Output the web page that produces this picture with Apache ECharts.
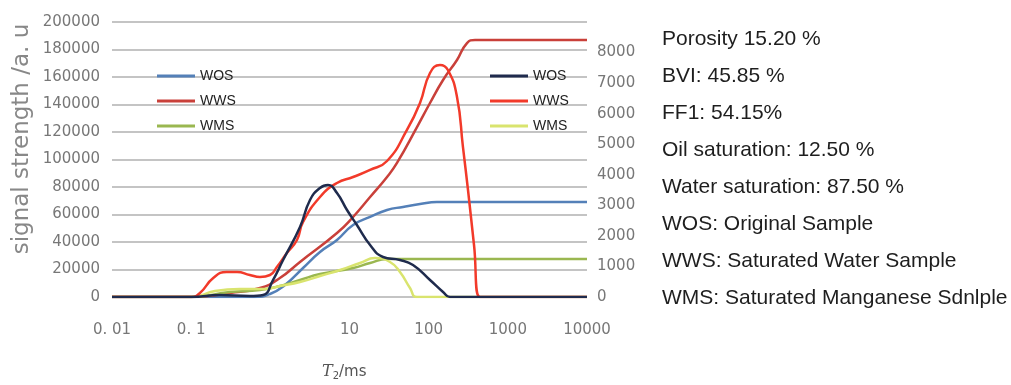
<!DOCTYPE html>
<html>
<head>
<meta charset="utf-8">
<script src="https://cdn.jsdelivr.net/npm/echarts@6/dist/echarts.min.js"></script>
<style>
html,body{margin:0;padding:0;background:#fff;}
#chart{width:1011px;height:385px;}
</style>
</head>
<body>
<div id="chart"></div>
<script>
// x axis: T2 (ms), log scale
const xTicks = [0.01, 0.1, 1, 10, 100, 1000, 10000];
const xTickLabels = ['0. 01', '0. 1', '1', '10', '100', '1000', '10000'];

// cumulative curves (left axis, signal strength)
const wosCum = [[0.01,0],[0.64,0],[0.99,2200],[1.53,8700],[2.59,21100],[4.24,32700],[6.95,41500],[11.1,52400],[18.2,58200],[29.8,63300],[47.4,65500],[77.7,67600],[127,69100],[10000,69100]];
const wwsCum = [[0.01,0],[0.1,0],[0.31,2900],[0.74,6500],[1.32,13800],[2.37,25500],[6.95,46500],[11.1,58200],[18.2,72700],[29.8,87300],[39.8,97500],[71.2,123600],[104,141100],[152,157800],[228,172400],[305,184700],[385,186900],[10000,186900]];
const wmsCum = [[0.01,0],[0.1,0],[0.31,3600],[0.74,5100],[1.32,8000],[2.37,12400],[4.24,16700],[11.1,21100],[18.2,24700],[29.8,27600],[10000,27600]];

// distribution curves (right axis)
const wosDist = [[0.01,0],[0.1,0],[0.23,65],[0.55,33],[0.81,65],[1.08,556],[1.45,1211],[2.37,2291],[3.17,3175],[4.24,3568],[5.35,3666],[6.95,3404],[9.3,2848],[12.4,2357],[18.2,1702],[26.5,1309],[43.4,1211],[63.4,1047],[104,556],[152,164],[186,0],[10000,0]];
const wwsDist = [[0.01,0],[0.1,0],[0.129,131],[0.19,622],[0.28,818],[0.38,818],[0.55,720],[0.74,655],[0.99,720],[1.21,982],[1.62,1440],[2.17,1866],[2.59,2455],[4.24,3273],[6.95,3731],[11.1,3928],[18.2,4157],[29.8,4451],[53.2,5466],[77.7,6350],[104,7332],[139,7593],[175,7430],[228,6546],[271,4910],[314,3502],[374,1702],[445,0],[10000,0]];
const wmsDist = [[0.01,0],[0.1,0],[0.2,196],[0.41,262],[0.86,262],[1.32,360],[2.37,491],[4.24,687],[7.6,884],[13.6,1113],[21,1276],[32.5,1146],[43.4,818],[58.1,295],[71.2,0],[10000,0]];

const annotations = [
  'Porosity 15.20 %',
  'BVI: 45.85 %',
  'FF1: 54.15%',
  'Oil saturation: 12.50 %',
  'Water saturation: 87.50 %',
  'WOS: Original Sample',
  'WWS: Saturated Water Sample',
  'WMS: Saturated Manganese Sdnlple'
];

const colors = {
  wosCum: '#5480b8', wwsCum: '#c9403a', wmsCum: '#9ab750',
  wosDist: '#1f2b4d', wwsDist: '#f23a2a', wmsDist: '#d9e46e'
};

const chart = echarts.init(document.getElementById('chart'), null, {renderer: 'canvas'});

function mkSeries(name, data, yIdx, color) {
  return {
    name: name, type: 'line', yAxisIndex: yIdx, data: data,
    showSymbol: false, smooth: 0.5,
    lineStyle: {color: color, width: 2.5}, itemStyle: {color: color},
    emphasis: {disabled: true}
  };
}

const labelFont = {fontFamily: 'DejaVu Sans', fontSize: 15, color: '#777'};
const legendText = {fontFamily: 'Liberation Sans', fontSize: 14, color: '#222'};

const option = {
  animation: false,
  backgroundColor: '#fff',
  grid: {left: 112, right: 424, top: 22, bottom: 88},
  legend: [
    {
      data: ['WOS-c', 'WWS-c', 'WMS-c'], orient: 'vertical', left: 152, top: 64,
      itemWidth: 38, itemHeight: 3, icon: 'rect', itemGap: 11,
      formatter: n => n.split('-')[0], textStyle: legendText
    },
    {
      data: ['WOS-d', 'WWS-d', 'WMS-d'], orient: 'vertical', left: 485, top: 64,
      itemWidth: 38, itemHeight: 3, icon: 'rect', itemGap: 11,
      formatter: n => n.split('-')[0], textStyle: legendText
    }
  ],
  xAxis: {
    type: 'log', logBase: 10, min: xTicks[0], max: xTicks[xTicks.length - 1],
    axisLine: {show: false}, axisTick: {show: false}, splitLine: {show: false},
    axisLabel: Object.assign({
      margin: 26,
      formatter: v => {
        const k = Math.round(Math.log10(v));
        const i = xTicks.findIndex(t => Math.round(Math.log10(t)) === k);
        return i >= 0 ? xTickLabels[i] : '';
      }
    }, labelFont)
  },
  yAxis: [
    {
      type: 'value', min: 0, max: 200000, interval: 20000,
      axisLine: {show: false}, axisTick: {show: false},
      splitLine: {lineStyle: {color: '#b0b0b0', width: 1.5}},
      axisLabel: Object.assign({margin: 12, formatter: v => String(v)}, labelFont)
    },
    {
      type: 'value', min: 0, max: 9000, interval: 1000,
      axisLine: {show: false}, axisTick: {show: false}, splitLine: {show: false},
      axisLabel: Object.assign({margin: 10, showMaxLabel: false, formatter: v => String(v)}, labelFont)
    }
  ],
  series: [
    mkSeries('WOS-c', wosCum, 0, colors.wosCum),
    mkSeries('WWS-c', wwsCum, 0, colors.wwsCum),
    mkSeries('WMS-c', wmsCum, 0, colors.wmsCum),
    mkSeries('WMS-d', wmsDist, 1, colors.wmsDist),
    mkSeries('WWS-d', wwsDist, 1, colors.wwsDist),
    mkSeries('WOS-d', wosDist, 1, colors.wosDist)
  ],
  graphic: [
    {
      type: 'text', x: 22, y: 139, rotation: Math.PI / 2,
      style: {text: 'signal strength /a. u', fontFamily: 'DejaVu Sans', fontSize: 23,
        fill: '#888', align: 'center', verticalAlign: 'middle'}
    },
    {
      type: 'text', x: 322, y: 372,
      style: {
        text: '{i|T}{s|2}{n|/ms}', verticalAlign: 'middle',
        rich: {
          i: {fontFamily: 'DejaVu Serif', fontStyle: 'italic', fontSize: 16, fill: '#555'},
          s: {fontFamily: 'DejaVu Sans', fontSize: 10, fill: '#555', padding: [8, 0, 0, 0]},
          n: {fontFamily: 'DejaVu Sans', fontSize: 15, fill: '#555'}
        }
      }
    }
  ].concat(annotations.map((t, i) => ({
    type: 'text', x: 662, y: 39 + i * 37,
    style: {text: t, fontFamily: 'Liberation Sans', fontSize: 21, fill: '#1e1e1e', verticalAlign: 'middle'}
  })))
};

chart.setOption(option);
</script>
</body>
</html>
